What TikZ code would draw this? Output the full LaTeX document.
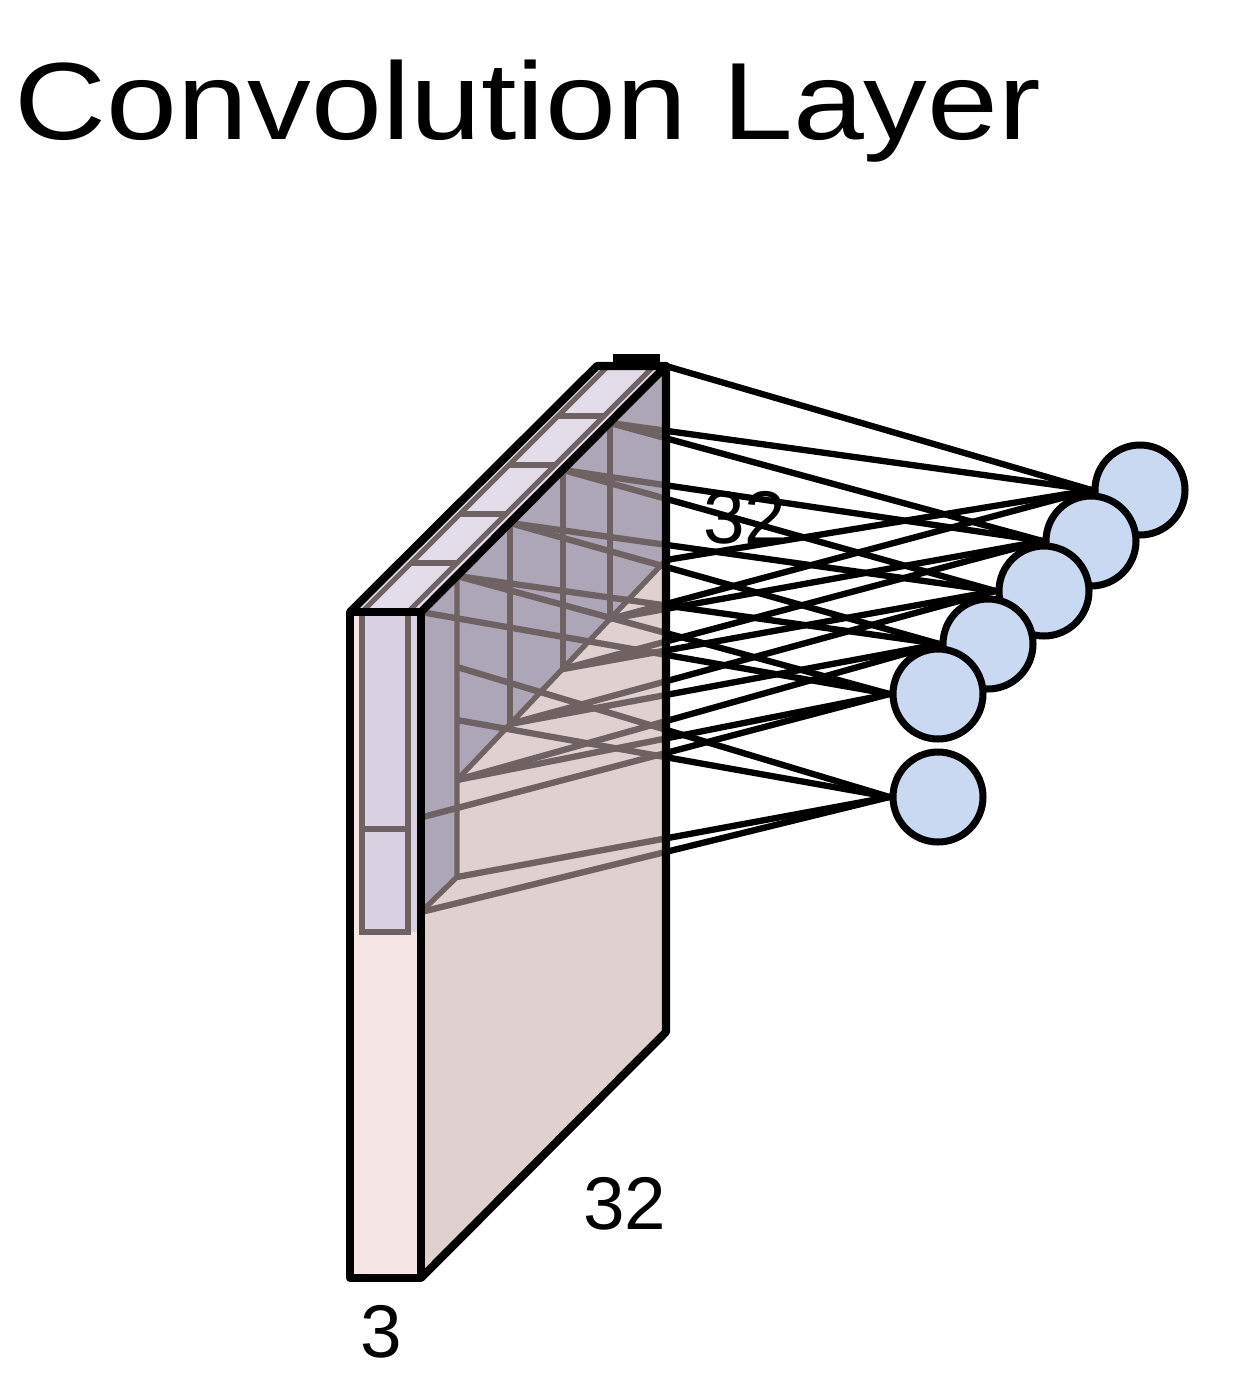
\documentclass[tikz,border=0pt]{standalone}
\usepackage{fontspec}
\setmainfont{Liberation Sans}
\usetikzlibrary{positioning}
\definecolor{frontpink}{HTML}{F5E5E5}
\definecolor{sidepink}{HTML}{DFD1D0}
\definecolor{toplilac}{HTML}{E3DDE9}
\definecolor{filterlilac}{HTML}{DAD2E2}
\definecolor{filterdark}{HTML}{ADA6B6}
\definecolor{gridgray}{HTML}{6E6262}
\definecolor{neuronblue}{HTML}{C9D9F1}
\pgfdeclarelayer{back}
\pgfdeclarelayer{mid}
\pgfsetlayers{back,mid,main}
\newcommand{\wirelist}{t5/n1,t4/n1,b5/n1,b4/n1,
	t4/n2,t3/n2,b4/n2,b3/n2,
	t3/n3,t2/n3,b3/n3,b2/n3,
	t2/n4,t1/n4,b2/n4,b1/n4,
	t1/n5,t0/n5,b1/n5,b0/n5,
	m1/n6,m2/n6,c1/n6,c0/n6}

\begin{document}
\begin{tikzpicture}[x=0.02cm,y=-0.02cm,
	edge/.style={black,line width=4.6pt,line join=round},
	grid/.style={gridgray,line width=3pt},
	wire/.style={line width=3.6pt},
	neuron/.style={circle,draw=black,line width=4pt,fill=neuronblue,minimum size=1.8cm,inner sep=0pt},
	dim/.style={font=\fontsize{42.5}{50}\selectfont,anchor=base,inner sep=0pt}]
	\useasboundingbox (0,0) rectangle (1246,1392);
	%\draw[help lines] (0,0) grid (1246,1392);
	\node[anchor=base west,inner sep=0pt,font=\fontsize{62.5}{70}\selectfont] (title) at (14,140) {\scalebox{1.16}[1]{Convolution Layer}};
	
	% points of the filter
	\coordinate (t0) at (421,612);
	\coordinate (t1) at (457,576);
	\coordinate (t2) at (510,523);
	\coordinate (t3) at (563,470);
	\coordinate (t4) at (610,423);
	\coordinate (t5) at (666,366);
	\coordinate (b0) at (423,817);
	\coordinate (b1) at (457,780);
	\coordinate (b2) at (510,724);
	\coordinate (b3) at (563,669);
	\coordinate (b4) at (610,619);
	\coordinate (b5) at (666,560);
	\coordinate (m1) at (457,667);
	\coordinate (m2) at (457,720);
	\coordinate (c1) at (457,877);
	\coordinate (c0) at (421,912);
	
	\begin{pgfonlayer}{back}
		\fill[frontpink] (350,612) rectangle (421,1278);
		\fill[sidepink] (421,612) -- (666,366) -- (666,1032) -- (421,1278) -- cycle;
		\fill[toplilac] (350,612) -- (421,612) -- (666,366) -- (597,366) -- cycle;
		\fill[filterlilac] (362,612) rectangle (421,932);
		\fill[filterdark] (t0) -- (t5) -- (b5) -- (b1) -- (c1) -- (c0) -- cycle;
		\draw[grid] (362,612) -- (362,932) -- (408,932) -- (408,612);
		\draw[grid] (362,829) -- (408,829);
		\draw[grid] (t1) -- (c1) -- (c0);
		\draw[grid] (t2) -- (b2);
		\draw[grid] (t3) -- (b3);
		\draw[grid] (t4) -- (b4);
		\draw[grid] (b5) -- (b1);
		% cells on the top
		\draw[grid] (362,612) -- (607,367);
		\draw[grid] (408,612) -- (653,367);
		\foreach \k in {1,...,4}
			\draw[grid] ({362+49*\k},{612-49*\k}) -- ({408+49*\k},{612-49*\k});
	\end{pgfonlayer}
	
	\draw[edge] (350,612) rectangle (421,1278);
	\draw[edge] (421,612) -- (666,366) -- (666,1032) -- (421,1278);
	\draw[edge] (350,612) -- (597,366) -- (666,366);
	\draw[edge] (613,358) -- (660,358);
	
	\node[neuron] (n1) at (1140,490) {};
	\node[neuron] (n2) at (1091,541) {};
	\node[neuron] (n3) at (1044,591) {};
	\node[neuron] (n4) at (988,644) {};
	\node[neuron] (n5) at (938,694) {};
	\node[neuron] (n6) at (938,797) {};
	
	\begin{pgfonlayer}{mid}
		\begin{scope}
			\clip (0,0) rectangle (666,1392);
			\foreach \s/\n in \wirelist
				\draw[wire,gridgray] (\s) -- (\n.west);
		\end{scope}
		\begin{scope}
			\clip (666,0) rectangle (1246,1392);
			\foreach \s/\n in \wirelist
				\draw[wire] (\s) -- (\n.west);
		\end{scope}
	\end{pgfonlayer}
	
	\node[dim] (depth) at (745,543) {32};
	\node[dim] (width) at (625,1229) {32};
	\node[dim] (chan) at (381,1357) {3};
\end{tikzpicture}
\end{document}
